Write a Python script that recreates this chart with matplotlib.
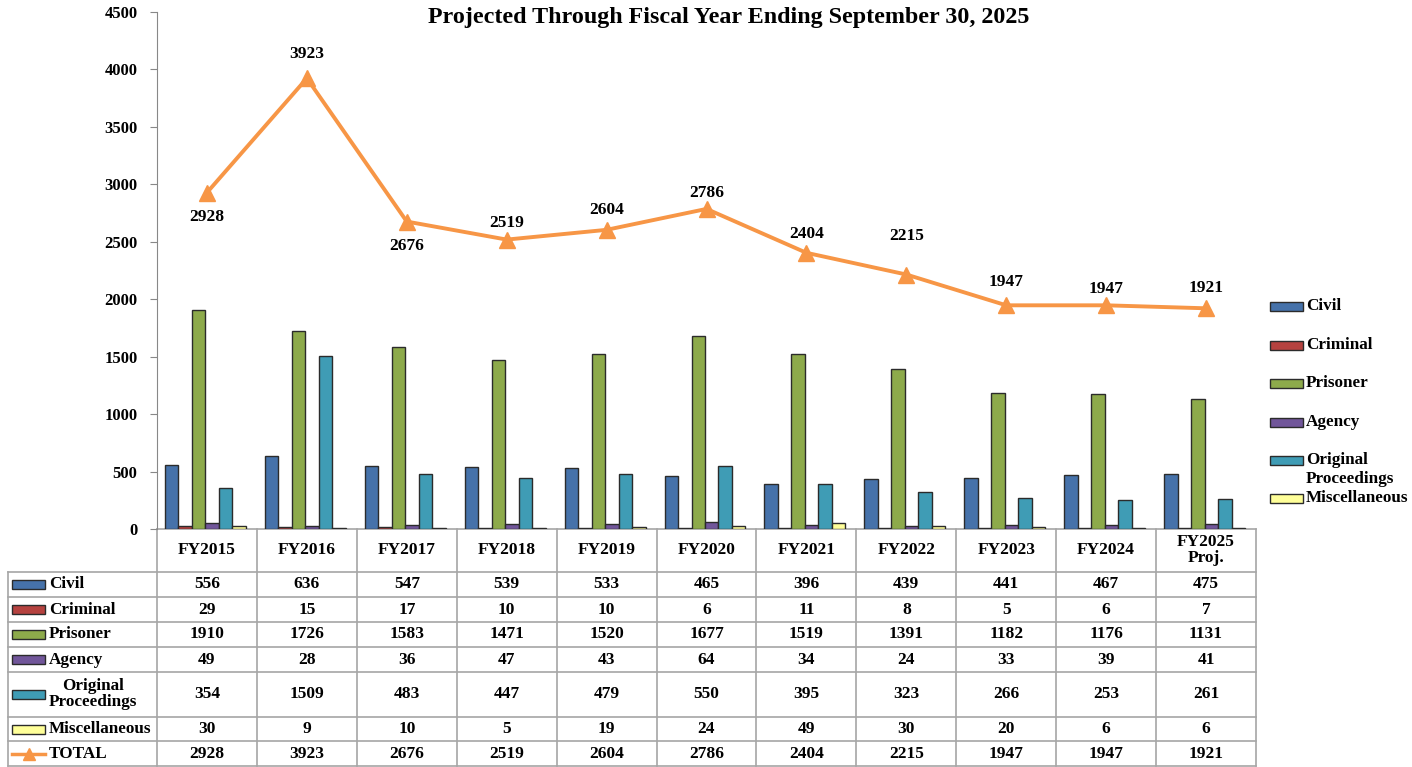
import matplotlib
matplotlib.use("Agg")
import matplotlib.pyplot as plt
from matplotlib.patches import Rectangle

# ---------------- data ----------------
years = ["FY2015", "FY2016", "FY2017", "FY2018", "FY2019", "FY2020",
         "FY2021", "FY2022", "FY2023", "FY2024", "FY2025\nProj."]
series_names = ["Civil", "Criminal", "Prisoner", "Agency",
                "Original\nProceedings", "Miscellaneous"]
civil = [556, 636, 547, 539, 533, 465, 396, 439, 441, 467, 475]
criminal = [29, 15, 17, 10, 10, 6, 11, 8, 5, 6, 7]
prisoner = [1910, 1726, 1583, 1471, 1520, 1677, 1519, 1391, 1182, 1176, 1131]
agency = [49, 28, 36, 47, 43, 64, 34, 24, 33, 39, 41]
original = [354, 1509, 483, 447, 479, 550, 395, 323, 266, 253, 261]
misc = [30, 9, 10, 5, 19, 24, 49, 30, 20, 6, 6]
total = [2928, 3923, 2676, 2519, 2604, 2786, 2404, 2215, 1947, 1947, 1921]
yticks = [0, 500, 1000, 1500, 2000, 2500, 3000, 3500, 4000, 4500]
title = "Projected Through Fiscal Year Ending September 30, 2025"

# ---------------- styles ----------------
colors = ["#4672AA", "#B5423F", "#8DAA4B", "#71569A", "#3F9CB5", "#FFFF99"]
line_color = "#F79646"
label_offsets = [-24, 24, -24, 17, 20, 16, 19, 39, 23, 16, 20]  # px, + = above
serif = ["Liberation Serif", "DejaVu Serif"]
plt.rcParams["font.family"] = serif
plt.rcParams["font.weight"] = "bold"
FS = 12.5

W, H = 1412, 767
fig = plt.figure(figsize=(W / 100, H / 100), dpi=100)

# layout in pixels
ax_l, ax_r, ax_t, ax_b = 157, 1256, 12, 529
ax = fig.add_axes([ax_l / W, (H - ax_b) / H, (ax_r - ax_l) / W, (ax_b - ax_t) / H])
n = len(years)
ax.set_xlim(-0.5, n - 0.5)
ax.set_ylim(0, 4500)

all_series = [civil, criminal, prisoner, agency, original, misc]
bw = 0.135
for j, (vals, c) in enumerate(zip(all_series, colors)):
    xs = [i + (j - 2.5) * bw - 0.015 for i in range(n)]
    ax.bar(xs, vals, width=bw, color=c, edgecolor="#2b2b2b", linewidth=1.0, zorder=2)

ax.plot(range(n), total, color=line_color, lw=2.8, marker="^", markersize=12,
        zorder=3, clip_on=False)
for i, (v, off) in enumerate(zip(total, label_offsets)):
    ax.annotate(str(v), (i, v), xytext=(0, off * 0.72), textcoords="offset points",
                ha="center", va="center", fontsize=FS, fontweight="bold", zorder=4)

for s in ["top", "right", "bottom"]:
    ax.spines[s].set_visible(False)
ax.spines["left"].set_color("#888888")
ax.set_yticks(yticks)
ax.set_yticklabels([str(t) for t in yticks], fontsize=12, fontweight="bold")
ax.tick_params(axis="y", direction="out", length=5, color="#888888", pad=9)
ax.set_xticks([])
ax.patch.set_alpha(0)

# ---------------- overlay for table / legend ----------------
ov = fig.add_axes([0, 0, 1, 1], zorder=-1)
ov.set_xlim(0, W)
ov.set_ylim(H, 0)
ov.axis("off")

gc = "#A6A6A6"
cw = (ax_r - ax_l) / n
row_edges = [529, 572, 597, 622, 647, 672, 717, 741, 766]
tab_l = 8
ov.plot([ax_l, ax_r], [row_edges[0]] * 2, color=gc, lw=1.2)
for y in row_edges[1:]:
    ov.plot([tab_l, ax_r], [y, y], color=gc, lw=1.2)
for k in range(n + 1):
    x = ax_l + k * cw
    ov.plot([x, x], [row_edges[0], row_edges[-1]], color=gc, lw=1.2)
ov.plot([tab_l, tab_l], [row_edges[1], row_edges[-1]], color=gc, lw=1.2)

# header
for i, yr in enumerate(years):
    ov.text(ax_l + (i + 0.5) * cw, (row_edges[0] + row_edges[1]) / 2, yr,
            ha="center", va="center", fontsize=FS, fontweight="bold", linespacing=1.0)

# rows
row_vals = all_series + [total]
row_names = series_names + ["TOTAL"]
for r, (name, vals) in enumerate(zip(row_names, row_vals)):
    y0, y1 = row_edges[r + 1], row_edges[r + 2]
    yc = (y0 + y1) / 2
    if r < len(colors):
        ov.add_patch(Rectangle((12, yc - 4.5), 33, 9, facecolor=colors[r],
                               edgecolor="#2b2b2b", lw=1.0))
    else:
        ov.plot([12, 45], [yc, yc], color=line_color, lw=2.5)
        ov.plot([28.5], [yc], marker="^", color=line_color, markersize=9)
    ov.text(49, yc, name, ha="left", va="center", fontsize=12.3, fontweight="bold",
            multialignment="center", linespacing=1.0)
    for i, v in enumerate(vals):
        ov.text(ax_l + (i + 0.5) * cw, yc, str(v), ha="center", va="center",
                fontsize=FS, fontweight="bold")

# legend (right)
leg_y = [306, 345, 383, 422, 460, 498]
for name, c, y in zip(series_names, colors, leg_y):
    ov.add_patch(Rectangle((1270, y - 4.5), 33, 9, facecolor=c,
                           edgecolor="#2b2b2b", lw=1.0))
    for li, part in enumerate(name.split("\n")):
        ov.text(1306, y + li * 19, part, ha="left", va="center", fontsize=12.3,
                fontweight="bold")

# title
fig.text(0.516, 1 - 17 / H, title, ha="center", va="center", fontsize=17.3,
         fontweight="bold")

fig.savefig("out.png", dpi=100)
